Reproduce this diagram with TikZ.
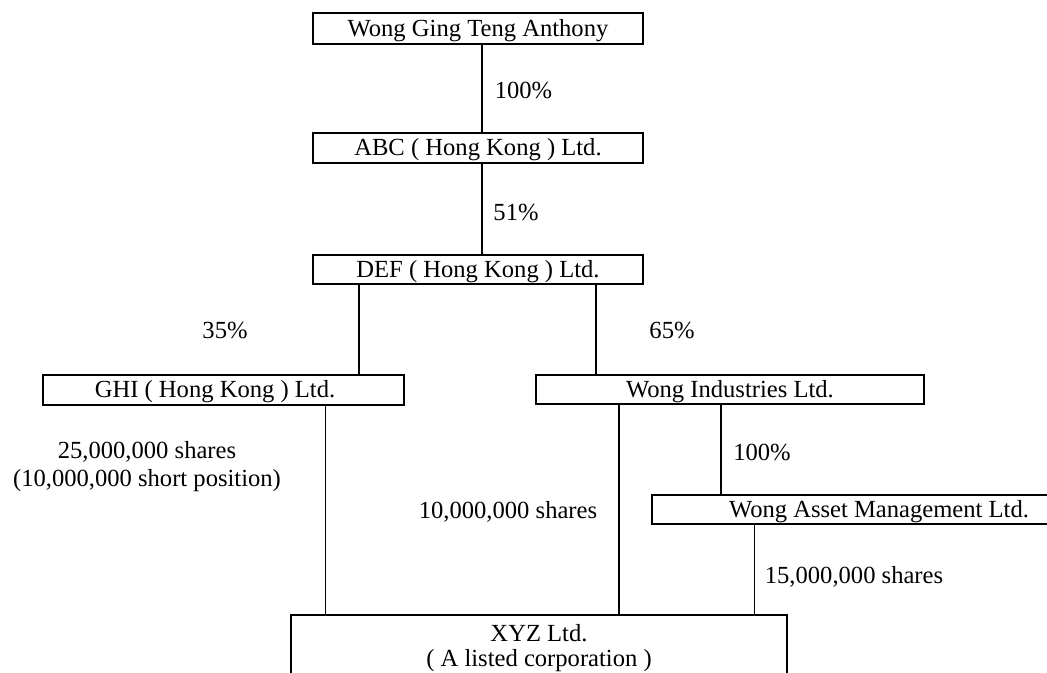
\documentclass[tikz,border=0pt]{standalone}
\usepackage{fontspec}
\setmainfont{Liberation Serif}
\begin{document}
\begin{tikzpicture}[x=0.5pt,y=-0.5pt,
  every node/.style={font=\fontsize{12.3}{14}\selectfont},
  box/.style={draw, line width=1pt, inner sep=0pt, minimum height=15pt, text height=10pt, text depth=2pt},
  link/.style={line width=1pt},
  thinlink/.style={line width=0.5pt},
  lbl/.style={inner sep=0pt, align=center}]
\useasboundingbox (0,0) rectangle (1047,673);
\clip (0,0) rectangle (1047,673);
% boxes
\node[box, minimum width=165pt, minimum height=15.5pt] (a) at (478,28.5) {Wong Ging Teng Anthony};
\node[box, minimum width=165pt] (abc) at (478,148) {ABC ( Hong Kong ) Ltd.};
\node[box, minimum width=165pt, minimum height=14.5pt] (def) at (478,269.5) {DEF ( Hong Kong ) Ltd.};
\node[box, minimum width=180.5pt] (ghi) at (223.5,389.5) {GHI ( Hong Kong ) Ltd.\hspace*{8.5pt}};
\node[box, minimum width=194pt, minimum height=14.5pt] (wi) at (730,389.5) {Wong Industries Ltd.};
\node[box, minimum width=198pt, minimum height=14.5pt] (wam) at (850,509.5) {\hspace*{29pt}Wong Asset Management Ltd.};
\node[inner sep=0pt, minimum width=248pt, minimum height=45pt, anchor=north] (xyz) at (539,615) {};
\draw[link] (xyz.south west) |- (xyz.north) -| (xyz.south east);
\node[lbl, font=\fontsize{12.3}{12.5}\selectfont] (xyzt) at (539,648) {XYZ Ltd.\\( A listed corporation )};
% connectors
\draw[link] ([xshift=2pt]a.south) -- ([xshift=2pt]abc.north);
\draw[link] ([xshift=2pt]abc.south) -- ([xshift=2pt]def.north);
\coordinate (c1) at (359,0);
\coordinate (c2) at (596,0);
\coordinate (c3) at (619,0);
\coordinate (c4) at (721,0);
\coordinate (c5) at (325,0);
\coordinate (c6) at (754,0);
\draw[link] (c1 |- def.south) -- (c1 |- ghi.north);
\draw[link] (c2 |- def.south) -- (c2 |- wi.north);
\draw[link] (c3 |- wi.south) -- (c3 |- xyz.north);
\draw[link] (c4 |- wi.south) -- (c4 |- wam.north);
\draw[thinlink] (c5 |- ghi.south) -- (c5 |- xyz.north);
\draw[thinlink] (c6 |- wam.south) -- (c6 |- xyz.north);
% labels
\node[lbl] (l1) at (523.5,90) {100\%};
\node[lbl] (l2) at (516,212) {51\%};
\node[lbl] (l3) at (225,330) {35\%};
\node[lbl] (l4) at (672,330) {65\%};
\node[lbl] (l5) at (147,467) {25,000,000 shares\\(10,000,000 short position)};
\node[lbl] (l6) at (508,512) {10,000,000 shares};
\node[lbl] (l7) at (762,452) {100\%};
\node[lbl] (l8) at (854,577) {15,000,000 shares};
\end{tikzpicture}
\end{document}
